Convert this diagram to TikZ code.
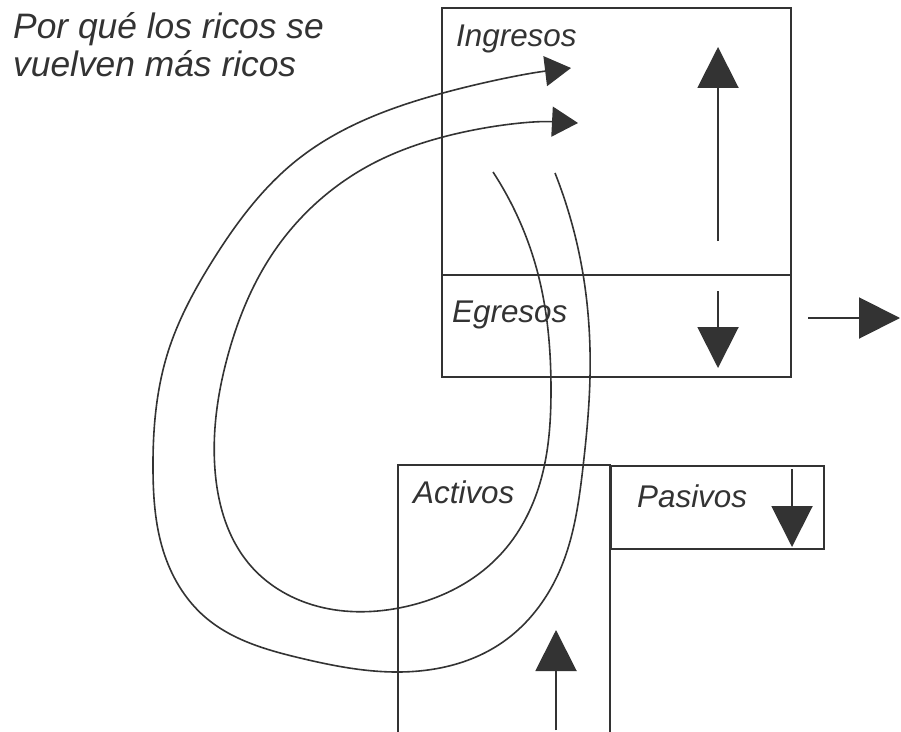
\documentclass[tikz,border=0pt]{standalone}
\usepackage{fontspec}
\setmainfont{Liberation Sans}
\usetikzlibrary{arrows.meta,hobby}
\definecolor{ink}{HTML}{333333}
\begin{document}
\begin{tikzpicture}[x=1bp,y=-1bp,
  box/.style={draw=ink, line width=2bp, inner sep=0pt, anchor=north west},
  loopline/.style={draw=ink, line width=1.6bp},
  bigarrow/.style={draw=ink, line width=2bp, -{Triangle[length=41bp,width=41bp]}},
  looparrow/.style={draw=ink, line width=1.6bp, -{Triangle[length=26bp,width=30bp]}},
  lbl/.style={text=ink, font=\fontsize{31.5}{34}\selectfont\itshape, anchor=base west, inner sep=0pt},
  ttl/.style={text=ink, font=\fontsize{35.5}{38}\selectfont\itshape, anchor=base west, inner sep=0pt}]
\useasboundingbox (0,0) rectangle (901,732);
\fill[white] (0,0) rectangle (901,732);

% titles
\node[ttl] (title1) at (13,39) {Por qué los ricos se};
\node[ttl] (title2) at (13,77) {vuelven más ricos};

% boxes
\node[box, minimum width=349bp, minimum height=267bp] (ingbox) at (441,7) {};
\node[box, minimum width=349bp, minimum height=102bp] (egrbox) at (441,274) {};
\node[box, minimum width=213bp, minimum height=83bp] (pasbox) at (610,465) {};
\coordinate (actBL) at (398,732);
\coordinate (actTL) at (398,465);
\coordinate (actTR) at (610,465);
\coordinate (actBR) at (610,732);
\draw[draw=ink, line width=2bp] (actBL) -- (actTL) -- (actTR) -- (actBR);

% labels
\node[lbl] (ing) at (456,47) {Ingresos};
\node[lbl] (egr) at (452,322) {Egresos};
\node[lbl] (act) at (413,503) {Activos};
\node[lbl] (pas) at (637,507) {Pasivos};

% straight arrows
\coordinate (ingS) at (718,241); \coordinate (ingT) at (718,47);
\coordinate (egrS) at (718,291); \coordinate (egrT) at (718,368);
\coordinate (outS) at (808,318); \coordinate (outT) at (900,318);
\coordinate (pasS) at (792,469); \coordinate (pasT) at (792,547);
\coordinate (actS) at (556,730); \coordinate (actT) at (556,630);
\draw[bigarrow] (ingS) -- (ingT);
\draw[bigarrow] (egrS) -- (egrT);
\draw[bigarrow] (outS) -- (outT);
\draw[bigarrow] (pasS) -- (pasT);
\draw[bigarrow] (actS) -- (actT);

% outer loop
\coordinate (outerS) at (555,173);
\coordinate (outerT) at (571,68);
\draw[looparrow, use Hobby shortcut] (outerS) .. (583,274) .. (590,377) .. (583,467)
 .. (560,570) .. (500,644) .. (399,672) .. (300,658) .. (205,617) .. (163,550)
 .. (153,470) .. (168,352) .. (213,260) .. (297,160) .. (443,93) .. (outerT);

% inner loop
\coordinate (innerS) at (493,172);
\coordinate (innerT) at (578,123);
\draw[looparrow, use Hobby shortcut] (innerS) .. (538,274) .. (551,390) .. (540,483)
 .. (500,555) .. (399,608) .. (313,605) .. (250,565) .. (215,470) .. (228,355)
 .. (273,253) .. (370,165) .. (443,137) .. (innerT);
\end{tikzpicture}
\end{document}
